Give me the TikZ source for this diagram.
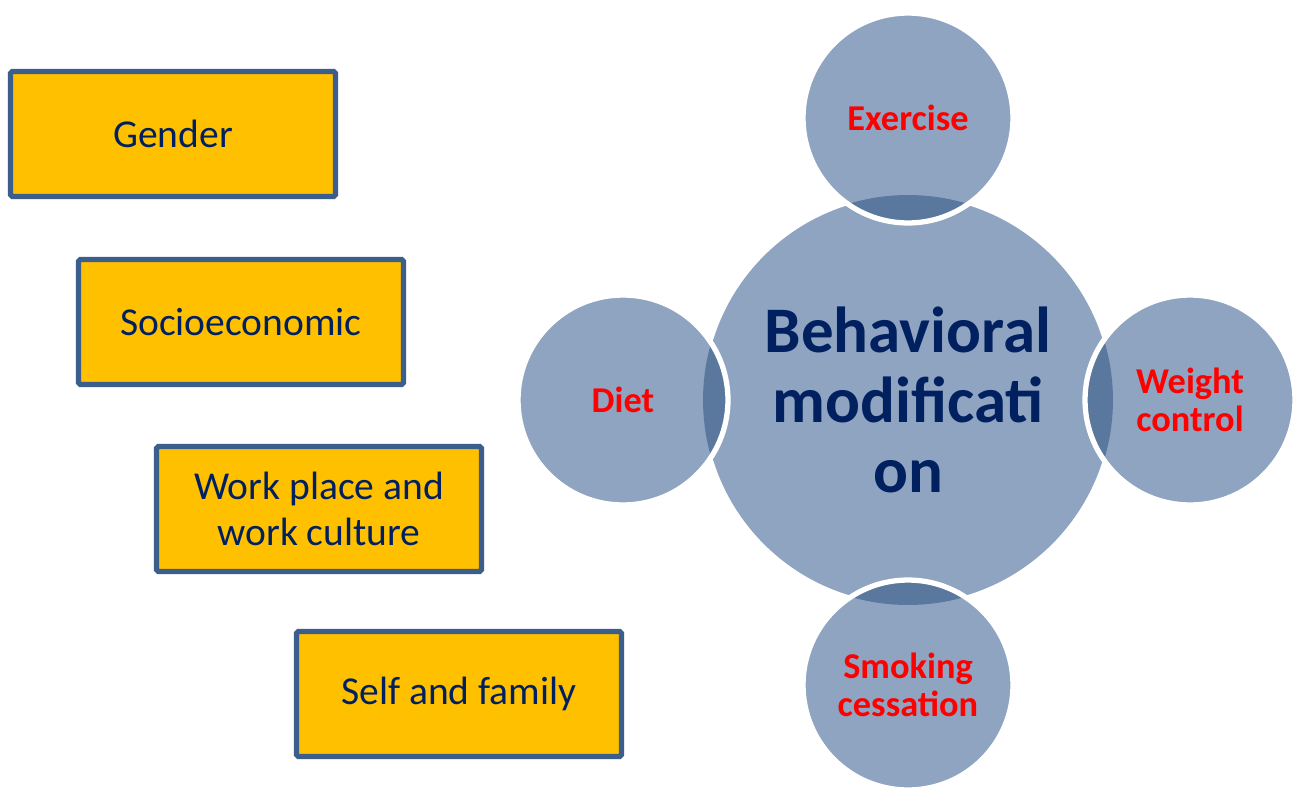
\documentclass[tikz,border=0pt]{standalone}
\usepackage{fontspec}
\setmainfont{Carlito}
\usepackage{tikz}
\usetikzlibrary{positioning}

\definecolor{boxfill}{HTML}{FFC000}
\definecolor{boxline}{HTML}{3B5E8C}
\definecolor{navy}{HTML}{002060}
\definecolor{disclight}{HTML}{8FA4C1}
\definecolor{discdark}{HTML}{5A779D}

\tikzset{
  factor/.style={draw=boxline,line width=3pt,fill=boxfill,rounded corners=1pt,
    minimum width=6.5cm,minimum height=2.5cm,align=center,text=navy,
    font=\fontsize{22.5}{26.5}\selectfont},
  bigdisc/.style={circle,fill=disclight,draw=white,line width=1.2pt,
    minimum size=8.2cm},
  smalldisc/.style={circle,draw=white,line width=3pt,minimum size=4.2cm},
  disclabel/.style={text=red,align=center,font=\fontsize{20.7}{22}\selectfont\bfseries},
}

\begin{document}
\begin{tikzpicture}[x=0.02cm,y=-0.02cm]
\useasboundingbox (0,0) rectangle (1299,788);
% left column of factors
\node[factor] (gender) at (173,134) {Gender};
\node[factor] (socio) at (241,322) {Socioeconomic};
\node[factor] (work) at (319,509) {Work place and\\work culture};
\node[factor] (self) at (459,694) {Self and family};
% centre disc
\node[bigdisc] (bm) at (908,400) {};
% four small discs round it, darker where they lie on the centre disc
\foreach \nm/\cx/\cy in {exercise/908/118,diet/623/400,weight/1190/400,smoking/908/685} {
  \fill[disclight] (\cx,\cy) circle (2.1cm);
  \begin{scope}
    \clip (908,400) circle (4.1cm);
    \fill[discdark] (\cx,\cy) circle (2.1cm);
  \end{scope}
  \node[smalldisc] (\nm) at (\cx,\cy) {};
}
% labels
\node[text=navy,align=center,font=\fontsize{37}{40}\selectfont\bfseries] (bmtext) at (bm) {Behavioral\\modificati\\on};
\node[disclabel] (extext) at (exercise) {Exercise};
\node[disclabel] (diettext) at (diet) {Diet};
\node[disclabel] (wtext) at (weight) {Weight\\control};
\node[disclabel] (smtext) at (smoking) {Smoking\\cessation};
\end{tikzpicture}
\end{document}
